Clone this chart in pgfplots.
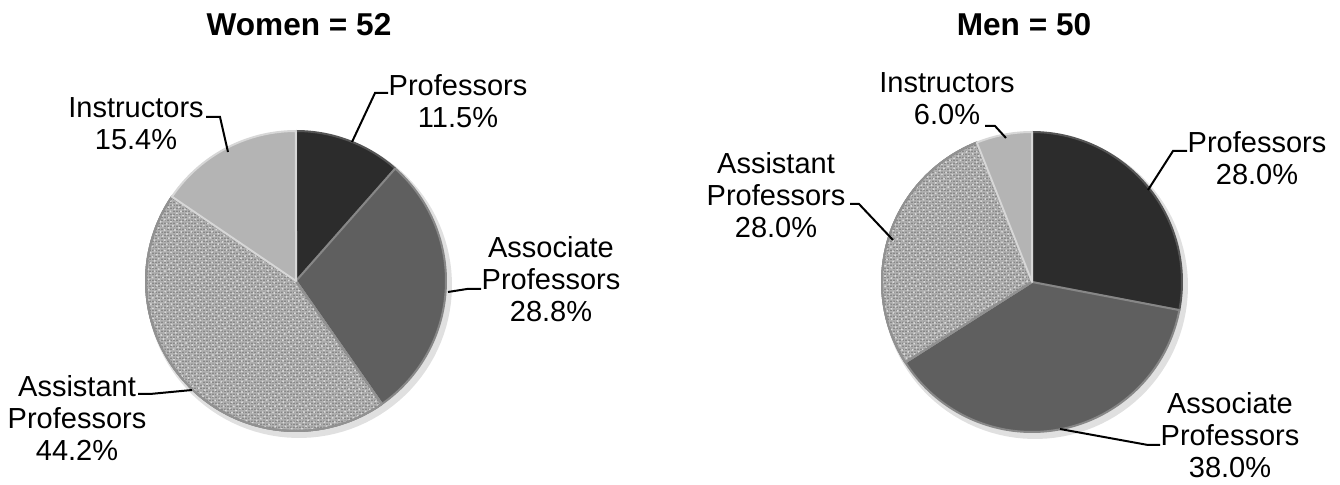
\documentclass[border=0pt]{standalone}
\usepackage{fontspec}
\setmainfont{Liberation Sans}
\usepackage{pgfplots}
\pgfplotsset{compat=1.18}
\usetikzlibrary{patterns.meta}

\definecolor{cprof}{RGB}{44,44,44}
\definecolor{cprofrim}{RGB}{85,85,85}
\definecolor{cassoc}{RGB}{95,95,95}
\definecolor{cassocrim}{RGB}{135,135,135}
\definecolor{cassist}{RGB}{176,176,176}
\definecolor{cassistrim}{RGB}{145,145,145}
\definecolor{cinstr}{RGB}{180,180,180}
\definecolor{cinstrrim}{RGB}{215,215,215}

\newcommand{\lbl}{\fontsize{14.5}{16}\selectfont}
\newcommand{\ttl}{\bfseries\fontsize{15.8}{18}\selectfont}

% one wedge: centre x, centre y, cumulative start %, cumulative end %, style
\newcommand{\slice}[5]{%
  \addplot[#5, line join=round, domain=#3:#4, samples=90, variable=\t]
    ({#1+150*sin(3.6*t)}, {#2-150*cos(3.6*t)}) -- (#1,#2) -- cycle;
}
% soft shadow under a pie
\newcommand{\shadow}[2]{%
  \addplot[draw=none, fill=black, fill opacity=0.12, domain=0:100, samples=120, variable=\t]
    ({#1+3+153*sin(3.6*t)}, {#2+4-153*cos(3.6*t)}) -- cycle;
}

\tikzset{
  sprof/.style={fill=cprof, draw=cprofrim, line width=1pt},
  sassoc/.style={fill=cassoc, draw=cassocrim, line width=1pt},
  sassist/.style={fill=cassist, draw=cassistrim, line width=1pt,
    postaction={pattern={Dots[distance=1.5pt, radius=0.45pt]}, pattern color=black!52},
    postaction={pattern={Dots[distance=2.3pt, radius=0.55pt, angle=27]}, pattern color=white!85!black}},
  sinstr/.style={fill=cinstr, draw=cinstrrim, line width=1pt},
  lead/.style={black, line width=1pt, mark=none},
}

\begin{document}
\begin{tikzpicture}
\begin{axis}[
    width=670pt, height=240pt,
    scale only axis,
    xmin=0, xmax=1340,
    ymin=0, ymax=480,
    y dir=reverse,
    hide axis,
    clip=false,
]
\addplot[draw=none, mark=none] coordinates {(0,0) (1340,480)};

% ---- Women = 52 : 11.5 / 28.8 / 44.2 / 15.4 %
\shadow{296}{281}
\slice{296}{281}{0}{11.5}{sprof}
\slice{296}{281}{11.5}{40.3}{sassoc}
\slice{296}{281}{40.3}{84.5}{sassist}
\slice{296}{281}{84.5}{100}{sinstr}

\addplot[lead] coordinates {(352,142) (375,93) (388,93)};
\addplot[lead] coordinates {(448,292) (467,289) (481,289)};
\addplot[lead] coordinates {(192,390) (150,394) (138,394)};
\addplot[lead] coordinates {(228,152) (220,117) (206,117)};

\node[font=\ttl] at (299,25) {Women = 52};
\node[font=\lbl, align=center] at (458,101) {Professors\\11.5\%};
\node[font=\lbl, align=center] at (551,279) {Associate\\Professors\\28.8\%};
\node[font=\lbl, align=center] at (77,418) {Assistant\\Professors\\44.2\%};
\node[font=\lbl, align=center] at (136,124) {Instructors\\15.4\%};

% ---- Men = 50 : 28.0 / 38.0 / 28.0 / 6.0 %
\shadow{1032}{282}
\slice{1032}{282}{0}{28}{sprof}
\slice{1032}{282}{28}{66}{sassoc}
\slice{1032}{282}{66}{94}{sassist}
\slice{1032}{282}{94}{100}{sinstr}

\addplot[lead] coordinates {(1148,190) (1173,151) (1187,151)};
\addplot[lead] coordinates {(1060,429) (1148,445) (1160,445)};
\addplot[lead] coordinates {(893,240) (859,204) (850,204)};
\addplot[lead] coordinates {(1006,138) (995,126) (985,126)};

\node[font=\ttl] at (1024,25) {Men = 50};
\node[font=\lbl, align=center] at (1257,158) {Professors\\28.0\%};
\node[font=\lbl, align=center] at (1230,435) {Associate\\Professors\\38.0\%};
\node[font=\lbl, align=center] at (776,195) {Assistant\\Professors\\28.0\%};
\node[font=\lbl, align=center] at (947,99) {Instructors\\6.0\%};
\end{axis}
\end{tikzpicture}
\end{document}
